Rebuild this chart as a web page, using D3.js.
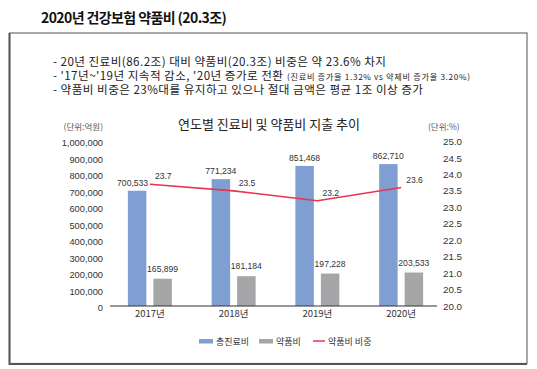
<!DOCTYPE html>
<html>
<head>
<meta charset="utf-8">
<script src="https://cdn.jsdelivr.net/npm/d3@7"></script>
<style>
  body { margin: 0; background: #fff; }
  svg { font-family: "Liberation Sans", "Noto Sans CJK KR", sans-serif; }
</style>
</head>
<body>
<div id="chart"></div>
<script>
// data
var years = ['2017년', '2018년', '2019년', '2020년'];
var totalCost = [700533, 771234, 851468, 862710];
var drugCost = [165899, 181184, 197228, 203533];
var drugShare = [23.7, 23.5, 23.2, 23.6];
var leftTicks = [0, 100000, 200000, 300000, 400000, 500000, 600000, 700000, 800000, 900000, 1000000];
var rightTicks = [20.0, 20.5, 21.0, 21.5, 22.0, 22.5, 23.0, 23.5, 24.0, 24.5, 25.0];
var notes = [
    '- 20년 진료비(86.2조) 대비 약품비(20.3조) 비중은 약 23.6% 차지',
    "- '17년~'19년 지속적 감소, '20년 증가로 전환",
    '- 약품비 비중은 23%대를 유지하고 있으나 절대 금액은 평균 1조 이상 증가'
];
var noteSmall = '(진료비 증가율 1.32% vs 약제비 증가율 3.20%)';
var legendItems = ['총진료비', '약품비', '약품비 비중'];

var width = 537;
var height = 369;
var blue = '#7f9fd3', gray = '#a6a6a8', red = '#e8344e';

var svg = d3.select('#chart')
    .append('svg')
    .attr('width', width)
    .attr('height', height);

// page title
svg.append('text')
    .attr('x', 41)
    .attr('y', 23)
    .attr('font-family', 'Noto Sans CJK KR')
    .attr('font-size', 14)
    .attr('font-weight', 'bold')
    .attr('letter-spacing', -0.6)
    .attr('fill', '#111')
    .text('2020년 건강보험 약품비 (20.3조)');

// frame
svg.append('rect')
    .attr('x', 9.5).attr('y', 33)
    .attr('width', 517.5).attr('height', 330.5)
    .attr('fill', 'none')
    .attr('stroke', '#6e6e6e')
    .attr('stroke-width', 1.2);
svg.append('path')
    .attr('d', 'M9.5,33 V364 H527')
    .attr('fill', 'none')
    .attr('stroke', '#555')
    .attr('stroke-width', 2);

// notes (stretched to the line widths of the original)
var noteWidths = [333, 230, 370];
var noteText = svg.append('g')
    .attr('font-family', 'Noto Sans CJK KR')
    .attr('fill', '#222');
notes.forEach(function(t, i) {
    noteText.append('text')
        .attr('x', 53)
        .attr('y', 66 + i * 14)
        .attr('font-size', 11.6)
        .attr('textLength', noteWidths[i])
        .attr('lengthAdjust', 'spacing')
        .text(t);
});
noteText.append('text')
    .attr('x', 287)
    .attr('y', 80)
    .attr('font-size', 8.2)
    .attr('textLength', 183)
    .attr('lengthAdjust', 'spacing')
    .text(noteSmall);

// scales
var x = d3.scaleBand()
    .domain(years)
    .range([108, 443]);

var yLeft = d3.scaleLinear()
    .domain([0, 1000000])
    .range([306, 141.5]);

var yRight = d3.scaleLinear()
    .domain([20, 25])
    .range([306, 141.5]);

var barW = 18.5;

// chart title
svg.append('text')
    .attr('x', 269)
    .attr('y', 129)
    .attr('text-anchor', 'middle')
    .attr('font-family', 'Noto Sans CJK KR')
    .attr('font-size', 13)
    .attr('fill', '#222')
    .text('연도별 진료비 및 약품비 지출 추이');

svg.append('text')
    .attr('x', 103).attr('y', 130)
    .attr('text-anchor', 'end')
    .attr('font-family', 'Noto Sans CJK KR')
    .attr('font-size', 8.5)
    .attr('fill', '#555')
    .text('(단위:억원)');
svg.append('text')
    .attr('x', 428).attr('y', 130)
    .attr('font-family', 'Noto Sans CJK KR')
    .attr('font-size', 8.5)
    .attr('fill', '#555')
    .text('(단위:%)');

// left axis
var leftAxis = d3.axisLeft(yLeft)
    .tickValues(leftTicks)
    .tickSize(0)
    .tickPadding(0)
    .tickFormat(d3.format(','));
var gl = svg.append('g')
    .attr('transform', 'translate(103,1.5)')
    .call(leftAxis);
gl.select('.domain').remove();
gl.selectAll('text').attr('font-size', 9.3).attr('fill', '#333');

// right axis
var rightAxis = d3.axisRight(yRight)
    .tickValues(rightTicks)
    .tickSize(0)
    .tickPadding(0)
    .tickFormat(d3.format('.1f'));
var gr = svg.append('g')
    .attr('transform', 'translate(443,0)')
    .call(rightAxis);
gr.select('.domain').remove();
gr.selectAll('text').attr('font-size', 9.8).attr('fill', '#333');

// bars
svg.selectAll('.bar-total')
    .data(totalCost)
    .enter()
    .append('rect')
    .attr('class', 'bar-total')
    .attr('x', function(d, i) { return x(years[i]) + x.bandwidth() / 2 - 3.5 - barW; })
    .attr('y', function(d) { return yLeft(d); })
    .attr('width', barW)
    .attr('height', function(d) { return yLeft(0) - yLeft(d); })
    .attr('fill', blue);

svg.selectAll('.bar-drug')
    .data(drugCost)
    .enter()
    .append('rect')
    .attr('class', 'bar-drug')
    .attr('x', function(d, i) { return x(years[i]) + x.bandwidth() / 2 + 3.5; })
    .attr('y', function(d) { return yLeft(d); })
    .attr('width', barW)
    .attr('height', function(d) { return yLeft(0) - yLeft(d); })
    .attr('fill', gray);

// bar labels
var fmt = d3.format(',');
svg.selectAll('.lbl-total')
    .data(totalCost)
    .enter()
    .append('text')
    .attr('x', function(d, i) {
        // first label is nudged left, away from the share line
        return x(years[i]) + x.bandwidth() / 2 - 3.5 - barW / 2 - (i == 0 ? 4.5 : 0);
    })
    .attr('y', function(d) { return yLeft(d) - 5; })
    .attr('text-anchor', 'middle')
    .attr('font-size', 8.6)
    .attr('fill', '#333')
    .text(function(d) { return fmt(d); });

svg.selectAll('.lbl-drug')
    .data(drugCost)
    .enter()
    .append('text')
    .attr('x', function(d, i) { return x(years[i]) + x.bandwidth() / 2 + 3.5 + barW / 2; })
    .attr('y', function(d) { return yLeft(d) - 7; })
    .attr('text-anchor', 'middle')
    .attr('font-size', 8.6)
    .attr('fill', '#333')
    .text(function(d) { return fmt(d); });

// baseline
svg.append('line')
    .attr('x1', 110).attr('x2', 437)
    .attr('y1', yLeft(0)).attr('y2', yLeft(0))
    .attr('stroke', '#333')
    .attr('stroke-width', 1.2);

// x labels
var xAxis = d3.axisBottom(x).tickSize(0).tickPadding(0);
var gx = svg.append('g')
    .attr('transform', 'translate(0,310)')
    .call(xAxis);
gx.select('.domain').remove();
gx.selectAll('text')
    .attr('font-family', 'Noto Sans CJK KR')
    .attr('font-size', 9.5)
    .attr('fill', '#333');

// share line
var line = d3.line()
    .x(function(d, i) { return x(years[i]) + x.bandwidth() / 2; })
    .y(function(d) { return yRight(d); });

svg.append('path')
    .datum(drugShare)
    .attr('d', line)
    .attr('fill', 'none')
    .attr('stroke', red)
    .attr('stroke-width', 1.6);

svg.selectAll('.lbl-share')
    .data(drugShare)
    .enter()
    .append('text')
    .attr('x', function(d, i) { return x(years[i]) + x.bandwidth() / 2 + 5; })
    .attr('y', function(d) { return yRight(d) - 5; })
    .attr('font-size', 8.6)
    .attr('fill', '#333')
    .text(function(d) { return d.toFixed(1); });

// legend
var legend = svg.append('g')
    .attr('font-family', 'Noto Sans CJK KR')
    .attr('font-size', 9)
    .attr('fill', '#333');
var legX = [199, 259, 313];
legendItems.forEach(function(t, i) {
    if (i < 2) {
        legend.append('rect')
            .attr('x', legX[i]).attr('y', 339)
            .attr('width', 14).attr('height', 4.5)
            .attr('fill', i == 0 ? blue : gray);
    } else {
        legend.append('line')
            .attr('x1', legX[i]).attr('x2', legX[i] + 12)
            .attr('y1', 341).attr('y2', 341)
            .attr('stroke', red)
            .attr('stroke-width', 1.5);
    }
    legend.append('text')
        .attr('x', legX[i] + (i < 2 ? 17 : 15))
        .attr('y', 344.5)
        .text(t);
});
</script>
</body>
</html>
